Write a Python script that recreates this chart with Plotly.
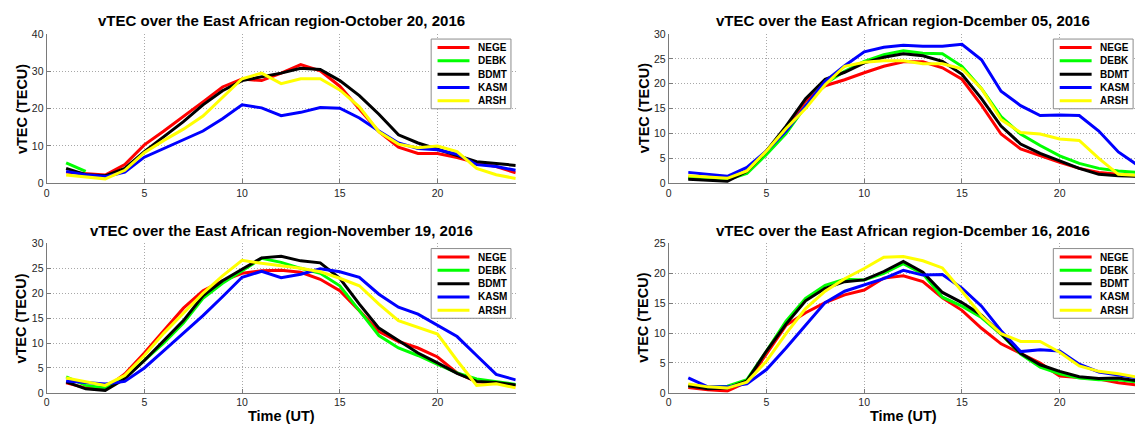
import plotly.graph_objects as go

# Figure size in pixels
W, H = 1135, 432

hours = list(range(1, 25))
stations = ["NEGE", "DEBK", "BDMT", "KASM", "ARSH"]
colors = ["#ff0000", "#00ff00", "#000000", "#0000ff", "#ffff00"]

titles = [
    "vTEC over the East African region-October 20, 2016",
    "vTEC over the East African region-Dcember 05, 2016",
    "vTEC over the East African region-November 19, 2016",
    "vTEC over the East African region-Dcember 16, 2016",
]

# ---- October 20, 2016 (DEBK has data only for the first two hours) ----
oct20_nege = [3.0, 2.6, 2.2, 5.0, 10.3, 14.0, 17.8, 21.8, 25.8, 27.9, 27.5, 29.5,
              31.8, 30.1, 26.0, 20.0, 13.8, 9.7, 8.0, 8.0, 6.9, 5.5, 4.5, 2.8]
oct20_debk = [5.5, 3.2] + [None] * 22
oct20_bdmt = [4.0, 2.3, 2.0, 4.0, 8.5, 12.5, 16.5, 21.0, 24.8, 27.5, 28.5, 29.5,
              30.8, 30.5, 27.5, 23.5, 18.5, 13.0, 10.8, 9.2, 7.5, 5.8, 5.3, 4.8]
oct20_kasm = [3.2, 2.3, 1.8, 3.0, 7.0, 9.3, 11.5, 14.0, 17.3, 21.0, 20.2, 18.1,
              19.0, 20.3, 20.1, 17.5, 14.0, 10.8, 9.3, 9.0, 7.8, 5.0, 4.5, 3.5]
oct20_arsh = [2.2, 1.6, 1.2, 3.5, 8.2, 11.5, 14.5, 18.0, 23.0, 28.0, 29.5, 26.7,
              28.0, 28.0, 25.0, 20.5, 13.8, 10.5, 9.5, 10.0, 8.5, 4.0, 2.3, 1.3]

# ---- December 05, 2016 ----
dec05_nege = [1.2, 0.9, 0.6, 2.5, 6.5, 11.0, 16.5, 19.6, 20.8, 22.2, 23.5, 24.4,
              24.4, 23.2, 20.9, 15.7, 9.9, 6.9, 5.5, 4.2, 3.0, 2.2, 1.8, 1.5]
dec05_debk = [1.0, 0.8, 0.7, 2.0, 5.8, 10.0, 15.5, 20.0, 22.5, 24.5, 25.8, 26.6,
              26.1, 26.0, 23.5, 19.0, 13.4, 9.9, 7.6, 5.5, 4.0, 3.0, 2.5, 2.2]
dec05_bdmt = [0.8, 0.6, 0.4, 2.4, 6.5, 11.5, 17.0, 20.9, 22.3, 24.2, 25.3, 26.0,
              25.6, 24.5, 21.9, 17.0, 11.5, 7.9, 6.0, 4.5, 3.0, 1.8, 1.5, 1.4]
dec05_kasm = [2.2, 1.8, 1.4, 3.2, 6.5, 10.5, 15.5, 20.5, 23.6, 26.4, 27.3, 27.7,
              27.5, 27.5, 27.9, 24.8, 18.5, 15.6, 13.6, 13.7, 13.6, 10.5, 6.3, 3.6]
dec05_arsh = [1.5, 1.3, 1.0, 2.5, 6.5, 11.0, 15.0, 19.8, 23.5, 24.3, 24.6, 24.6,
              24.0, 24.0, 23.0, 19.0, 12.8, 10.2, 9.9, 8.9, 8.6, 5.0, 1.8, 1.6]

# ---- November 19, 2016 ----
nov19_nege = [2.0, 1.0, 0.9, 3.8, 8.0, 12.5, 17.0, 20.5, 22.5, 24.0, 24.5, 24.6,
              24.2, 22.8, 20.5, 16.5, 12.3, 10.3, 9.0, 7.2, 4.0, 2.2, 2.0, 1.5]
nov19_debk = [3.2, 1.5, 1.0, 3.0, 6.5, 10.0, 14.0, 19.0, 22.0, 24.5, 27.0, 26.2,
              25.0, 24.0, 21.5, 16.5, 11.5, 9.0, 7.5, 5.7, 4.0, 2.8, 2.2, 1.7]
nov19_bdmt = [2.2, 0.8, 0.5, 2.8, 6.5, 10.5, 14.5, 19.5, 22.5, 24.8, 27.1, 27.4,
              26.5, 26.1, 23.0, 17.8, 13.0, 10.5, 8.0, 6.0, 3.9, 2.3, 2.1, 1.6]
nov19_kasm = [2.4, 2.1, 1.8, 2.3, 5.0, 8.5, 12.0, 15.5, 19.3, 23.2, 24.4, 23.1,
              23.8, 24.9, 24.3, 23.2, 19.8, 17.2, 15.8, 13.5, 11.3, 7.5, 3.7, 2.6]
nov19_arsh = [3.0, 2.2, 1.5, 3.5, 7.5, 12.0, 16.0, 20.0, 23.5, 26.6, 26.0, 25.5,
              25.0, 24.3, 23.0, 21.5, 17.8, 14.5, 13.2, 11.8, 6.5, 1.5, 1.8, 1.0]

# ---- December 16, 2016 ----
dec16_nege = [0.9, 0.5, 0.3, 1.8, 6.5, 11.3, 13.4, 15.1, 16.4, 17.2, 19.2, 19.6,
              18.6, 15.9, 13.8, 10.8, 8.2, 6.6, 5.0, 2.8, 2.6, 2.3, 1.7, 1.3]
dec16_debk = [1.2, 0.9, 1.1, 2.2, 7.0, 12.0, 15.8, 18.0, 19.0, 18.9, 20.0, 21.6,
              19.9, 16.0, 14.5, 12.6, 9.8, 6.5, 4.3, 3.2, 2.5, 2.2, 2.2, 1.8]
dec16_bdmt = [1.2, 0.7, 0.8, 2.0, 7.0, 11.5, 15.4, 17.5, 18.6, 18.9, 20.3, 22.0,
              20.2, 16.8, 15.1, 13.0, 9.9, 6.6, 4.7, 3.6, 2.7, 2.4, 2.5, 2.0]
dec16_kasm = [2.5, 1.0, 1.0, 1.5, 3.9, 7.5, 11.3, 15.1, 17.0, 18.0, 19.1, 20.5,
              19.7, 19.8, 17.5, 14.5, 10.4, 6.9, 7.2, 7.0, 4.8, 3.5, 3.0, 2.5]
dec16_arsh = [1.5, 1.0, 0.8, 1.8, 5.3, 9.9, 14.1, 17.0, 19.1, 20.8, 22.7, 22.8,
              22.1, 20.9, 17.0, 12.9, 9.9, 8.6, 8.6, 6.8, 4.5, 3.6, 3.2, 2.6]

y_max = [40, 30, 30, 25]
y_step = [10, 5, 5, 5]

panel_series = [
    [oct20_nege, oct20_debk, oct20_bdmt, oct20_kasm, oct20_arsh],
    [dec05_nege, dec05_debk, dec05_bdmt, dec05_kasm, dec05_arsh],
    [nov19_nege, nov19_debk, nov19_bdmt, nov19_kasm, nov19_arsh],
    [dec16_nege, dec16_debk, dec16_bdmt, dec16_kasm, dec16_arsh],
]

# ---- geometry (pixels) ----
UNIT = 19.6                      # pixels per hour
X0 = [43.7, 667.5, 43.7, 667.5]  # x=0 position of each panel
Y_TOP = [28.7, 28.7, 244.2, 244.2]
Y_BOT = [182.4, 182.4, 397.9, 397.9]


def px(x):
    return x / W


def py(y):
    return 1 - y / H


FONT = "Arial, Liberation Sans, Helvetica, sans-serif"
AXIS_GREY = "#7a7a7a"

fig = go.Figure()
shapes = []
annotations = []
layout_axes = {}

for i in range(4):
    xa = "x" if i == 0 else f"x{i + 1}"
    ya = "y" if i == 0 else f"y{i + 1}"
    xkey = "xaxis" if i == 0 else f"xaxis{i + 1}"
    ykey = "yaxis" if i == 0 else f"yaxis{i + 1}"

    right_px = min(X0[i] + 24 * UNIT, W)
    x_hi = (right_px - X0[i]) / UNIT

    for name, col, vals in zip(stations, colors, panel_series[i]):
        fig.add_trace(go.Scatter(
            x=hours, y=vals, mode="lines", name=name,
            line=dict(color=col, width=3),
            xaxis=xa, yaxis=ya, showlegend=False,
        ))

    common = dict(
        showline=True, linecolor=AXIS_GREY, linewidth=1,
        ticks="inside", ticklen=4, tickcolor=AXIS_GREY,
        showgrid=True, gridcolor="#a8a8a8", griddash="1px,2px", gridwidth=1,
        zeroline=False, tickfont=dict(family=FONT, size=10.5, color="#262626"),
        fixedrange=True,
    )
    layout_axes[xkey] = dict(
        common, domain=[px(X0[i]), px(right_px)], range=[0, x_hi],
        tick0=0, dtick=5, anchor=ya,
    )
    layout_axes[ykey] = dict(
        common, domain=[py(Y_BOT[i]), py(Y_TOP[i])], range=[0, y_max[i]],
        tick0=0, dtick=y_step[i], anchor=xa,
    )

    # panel title
    cx = (X0[i] + X0[i] + 24 * UNIT) / 2
    annotations.append(dict(
        text=f"<b>{titles[i]}</b>", xref="paper", yref="paper",
        x=px(cx), y=py(Y_TOP[i] - 13.5), xanchor="center", yanchor="middle",
        showarrow=False, font=dict(family=FONT, size=15, color="#000000"),
    ))
    # y-axis title
    annotations.append(dict(
        text="<b>vTEC (TECU)</b>", xref="paper", yref="paper",
        x=px(X0[i] - 25.2), y=py((Y_TOP[i] + Y_BOT[i]) / 2),
        xanchor="center", yanchor="middle", textangle=-90,
        showarrow=False, font=dict(family=FONT, size=14.5, color="#000000"),
    ))
    # x-axis title on the lower row
    if i >= 2:
        annotations.append(dict(
            text="<b>Time (UT)</b>", xref="paper", yref="paper",
            x=px(cx), y=py(Y_BOT[i] + 24), xanchor="center", yanchor="middle",
            showarrow=False, font=dict(family=FONT, size=14.5, color="#000000"),
        ))

    # legend box
    lx0 = X0[i] + 385.6
    lx1 = lx0 + 80
    ly0 = Y_TOP[i] + 5.3
    ly1 = ly0 + 71.7
    shapes.append(dict(
        type="rect", xref="paper", yref="paper",
        x0=px(lx0), x1=px(lx1), y0=py(ly1), y1=py(ly0),
        line=dict(color="#8c8c8c", width=1), fillcolor="#ffffff", layer="above",
    ))
    for k, (name, col) in enumerate(zip(stations, colors)):
        ey = Y_TOP[i] + 14 + 13.7 * k
        shapes.append(dict(
            type="line", xref="paper", yref="paper",
            x0=px(lx0 + 6.4), x1=px(lx0 + 38.4), y0=py(ey), y1=py(ey),
            line=dict(color=col, width=3), layer="above",
        ))
        annotations.append(dict(
            text=f"<b>{name}</b>", xref="paper", yref="paper",
            x=px(lx0 + 45), y=py(ey), xanchor="left", yanchor="middle",
            showarrow=False, font=dict(family=FONT, size=10, color="#000000"),
        ))

fig.update_layout(
    width=W, height=H,
    margin=dict(l=0, r=0, t=0, b=0),
    paper_bgcolor="#ffffff", plot_bgcolor="#ffffff",
    showlegend=False,
    shapes=shapes, annotations=annotations,
    **layout_axes,
)

fig.write_html("out.html", config={"displayModeBar": False})
